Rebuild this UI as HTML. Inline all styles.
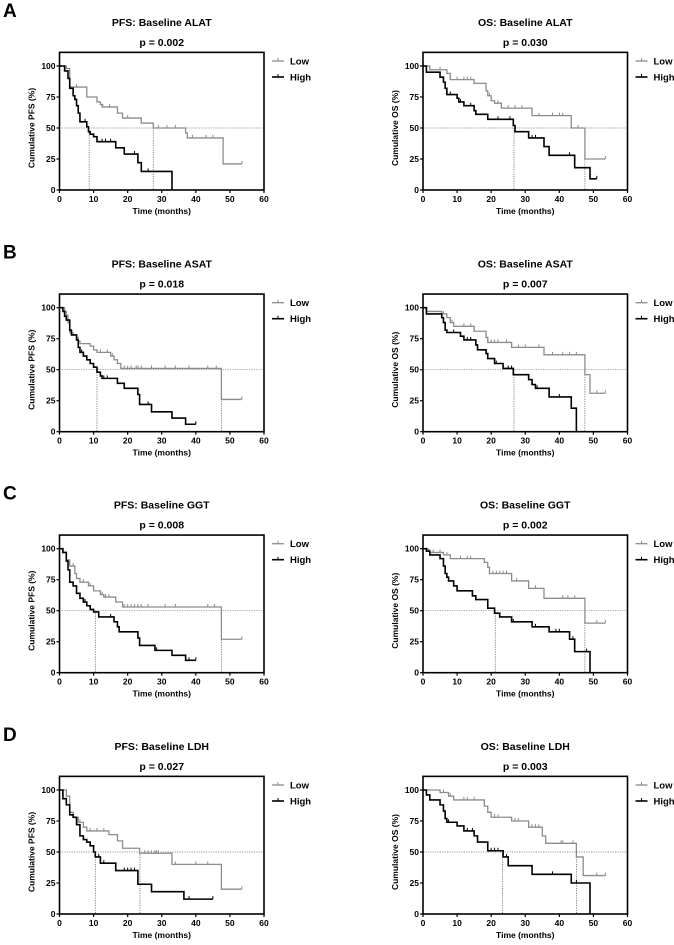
<!DOCTYPE html>
<html><head><meta charset="utf-8">
<style>
html,body{margin:0;padding:0;background:#fff;}
svg{display:block;font-family:"Liberation Sans",Arial,sans-serif;font-weight:bold;}
</style></head>
<body>
<svg id="fig" width="674" height="945" viewBox="0 0 674 945" xmlns="http://www.w3.org/2000/svg"></svg>
<script>
// ---- Data ----
const panelLetters = ["A","B","C","D"];
const titles = ["PFS: Baseline ALAT","OS: Baseline ALAT","PFS: Baseline ASAT","OS: Baseline ASAT",
"PFS: Baseline GGT","OS: Baseline GGT","PFS: Baseline LDH","OS: Baseline LDH"];
const pValues = ["p = 0.002","p = 0.030","p = 0.018","p = 0.007","p = 0.008","p = 0.002","p = 0.027","p = 0.003"];
const yTitles = ["Cumulative PFS (%)","Cumulative OS (%)","Cumulative PFS (%)","Cumulative OS (%)","Cumulative PFS (%)","Cumulative OS (%)","Cumulative PFS (%)","Cumulative OS (%)"];
const xTicks = [0,10,20,30,40,50,60];
const yTicks = [0,25,50,75,100];
const seriesNames = ["Low","High"];

// step curves: [time, survival] after each drop; last entry = end of follow-up
const lowSteps = [
 [[2,98],[3,83],[8,75],[11,71],[12,69],[12.5,67],[17,62],[18.5,58],[24,54],[27.5,50],[37,46],[37.5,42],[48,21],[53.5,21]],
 [[2,97],[7,94],[8,89],[15,86],[18.5,80],[19,76],[20,72],[21,70],[23,66],[32,60],[43.5,50],[47.5,25],[53.5,25]],
 [[1.5,97],[2,94],[2.5,88],[3,80],[4,78],[5,76],[5.5,73],[6,71],[9,69],[10,66],[11,64],[15,61],[16,58],[17,55],[18,51],[47.5,26],[53.5,26]],
 [[1,97],[5.5,95],[7,92],[8,88],[9,85],[15,81],[18.5,76],[19,72],[26,68],[35.5,62],[47.5,46],[49,31],[53.5,31]],
 [[1,97],[2,91],[3,86],[4.5,80],[5,76],[6,73],[8.5,70],[10,66],[12,63],[13,61],[16.5,57],[18.5,53],[47.5,27],[53.5,27]],
 [[1.5,99],[2,97],[6,95],[8,92],[18,89],[19,85],[19.5,80],[26,74],[31,68],[35.5,60],[47.5,40],[53.5,40]],
 [[2,95],[3,82],[4,78],[5.5,74],[7,70],[8,67],[14.5,64],[17,59],[18.5,53],[23.5,49],[33,40],[47.5,20],[53.5,20]],
 [[5,98],[7.5,95],[9,92],[18,87],[19,82],[20,78],[26,75],[31,70],[35,63],[36,57],[45,46],[47,31],[53.5,31]]
];
const lowCens = [
 [3,5,12.7,14.7,20,24,29,31.5,34,39,43,45,53.5],
 [5,8,10,12,13,14,19.5,22,25,27,29,34,38,40,41,45.5,53.5],
 [12,14,15.5,19,20,21,22.5,23,24,27,31,34,38,43.5,46,53.5],
 [6,8.5,12,14,15,20,21,22,24.5,28,30,34,38,41,43,45,51,53.5],
 [4,7,9,12.5,13.5,14.5,19,20,21,22,23,24,26,31,34,43.5,45.5,53.5],
 [3,5,7,11,13,14,20.5,21.5,22.5,23.5,24.5,27.5,33,41,42.5,44.5,51,53.5],
 [6,9,11,13,23.5,25,26,27,28,28.5,29,34,40,43.5,53.5],
 [6,8,12,13,15,21,22,27,28,32,33,34,40.5,41,44,51,53.5]
];
const highSteps = [
 [[1.5,96],[2.5,90],[3,82],[4,76],[4.5,73],[5,68],[5.5,62],[6,55],[8,51],[8.5,47],[9,45],[10,43],[11,39],[16.5,34],[19,29],[23,22],[24,15],[33,0],[33,0]],
 [[1,95],[5,91],[6,87],[6.5,82],[7,77],[10,74],[10.5,71],[12,68],[15,64],[15.5,61],[19,57],[26.5,52],[27,47],[31,42],[35.5,35],[37,28],[44.5,18],[49,9],[51,9]],
 [[1,97],[1.5,93],[2,90],[3,82],[3.5,78],[5,74],[5.5,68],[6,64],[7,61],[8,58],[9,55],[10,52],[11,48],[12,45],[12.5,43],[17,39],[19,35],[23,30],[23.5,22],[27,16],[33,11],[37,6],[40,6]],
 [[1,95],[5.5,92],[6,88],[6.5,82],[7,80],[11,77],[12,74],[15.5,70],[16,66],[18.5,63],[19,59],[21,55],[23.5,51],[26.5,46],[31,42],[32,38],[33,35],[37,28],[43.5,19],[45,0],[45,0]],
 [[1,97],[2,90],[2.5,83],[3,73],[4,70],[5,64],[6,60],[7,57],[8,54],[9,51],[10,49],[11.5,45],[16,41],[17,37],[17.5,33],[23,28],[23.5,22],[28,18],[33,14],[37,10],[40,10]],
 [[1,98],[2,95],[5,92],[6,86],[6.5,80],[7,77],[7.5,74],[9,70],[10,66],[14.5,62],[15.5,59],[19,52],[21,48],[22.5,45],[26,41],[32,37],[37,33],[43,27],[44.5,17],[49,0],[49,0]],
 [[1,93],[2,88],[3,80],[4,78],[5,72],[6,63],[7,60],[8,58],[9,55],[10,50],[10.5,46],[12,41],[16.5,35],[23,24],[27,18],[36.5,12],[45,12]],
 [[1,96],[2,92],[5,88],[6,83],[6.5,77],[7,74],[10,71],[12,67],[15,63],[16,58],[19,51],[23.5,46],[25,39],[32,32],[43.5,25],[49,0],[49,0]]
];
const highCens = [
 [7.5,12.5,13.5,15,22,26],
 [8,11,14,19,22,25.5,32,33,43,51],
 [6.5,13,14,26,40],
 [6,9,13,14,21.5,25,26,33.5,40],
 [7.5,15,28.5,38,40],
 [6.5,7.5,14.5,26.5,33,39,40,44,48],
 [5,11.5,13,19,20,21,22,38,45],
 [7.5,13,14.5,20,21,22,24.5,25,38,45]
];
const lowMedian = [27.5,47.5,47.5,47.5,47.5,47.5,23.6,45];
const highMedian = [8.7,26.7,11,26.7,10.5,21.2,10.5,23.3];

// ---- Drawing ----
const NS="http://www.w3.org/2000/svg";
const svg=document.getElementById('fig');
function mk(tag,attrs,parent){const e=document.createElementNS(NS,tag);for(const k in attrs)e.setAttribute(k,attrs[k]);(parent||svg).appendChild(e);return e;}
const rowOffsets=[0,241.7,482.7,724];
const colX0=[59.5,423];
const plotW=204.5;
const y0Base=190, pxPerPct=1.24;
const GRAY="#8c8c8c";

function survAt(steps,t){let s=100;for(const [tt,v] of steps){if(tt<=t)s=v;else break;}return s;}

for(let i=0;i<8;i++){
  const row=Math.floor(i/2), col=i%2;
  const off=rowOffsets[row];
  const X0=colX0[col];
  const Y0=y0Base+off;
  const xs=t=>X0+t/60*plotW;
  const ys=v=>Y0-v*pxPerPct;
  const g=mk('g',{});
  
  
  if(col===0){
    const L=mk('text',{x:3,y:off+17,'font-size':19,fill:'#000'},g);
    L.textContent=panelLetters[row];
    
    
  }
  const T=mk('text',{x:X0+plotW/2,y:off+26,'font-size':10.5,'text-anchor':'middle'},g);
  T.textContent=titles[i];
  
  
  const P=mk('text',{x:X0+plotW/2,y:off+46,'font-size':10.5,'text-anchor':'middle'},g);
  P.textContent=pValues[i];
  
  
  // dotted reference lines
  const h=mk('line',{x1:X0,x2:X0+plotW,y1:ys(50),y2:ys(50),stroke:'#777','stroke-width':0.7,'stroke-dasharray':'1.2,1.2'},g);
  
  
  [lowMedian[i],highMedian[i]].forEach(m=>{
    const v=mk('line',{x1:xs(m),x2:xs(m),y1:ys(50),y2:Y0,stroke:'#555','stroke-width':0.7,'stroke-dasharray':'1.2,1.2'},g);
    
    
  });
  // curves
  const curves=[[lowSteps[i],lowCens[i],GRAY,1.3,'low'],[highSteps[i],highCens[i],'#000',1.6,'high']];
  curves.forEach(([steps,cens,color,w,nm])=>{
    let d='M'+xs(0)+','+ys(100);let prev=100;
    steps.forEach(([t,v])=>{d+=' H'+xs(t)+' V'+ys(v);prev=v;});
    const p=mk('path',{d:d,fill:'none',stroke:color,'stroke-width':w},g);
    
    
    cens.forEach(t=>{
      const s=survAt(steps,t);
      const c=mk('line',{x1:xs(t),x2:xs(t),y1:ys(s),y2:ys(s)-3,stroke:color,'stroke-width':1},g);
      
      
    });
  });
  // frame
  const fr=mk('rect',{x:X0,y:Y0-111*pxPerPct,width:plotW,height:111*pxPerPct,fill:'none',stroke:'#000','stroke-width':1.6},g);
  
  
  // y ticks
  yTicks.forEach(v=>{
    const tk=mk('line',{x1:X0-3,x2:X0,y1:ys(v),y2:ys(v),stroke:'#000','stroke-width':1.2},g);
    
    
    const tl=mk('text',{x:X0-4,y:ys(v)+3,'font-size':8.5,'text-anchor':'end'},g);
    tl.textContent=v;
    
    
  });
  xTicks.forEach(v=>{
    const tk=mk('line',{x1:xs(v),x2:xs(v),y1:Y0,y2:Y0+3,stroke:'#000','stroke-width':1.2},g);
    
    
    const tl=mk('text',{x:xs(v),y:Y0+12,'font-size':8.5,'text-anchor':'middle'},g);
    tl.textContent=v;
    
    
  });
  const xt=mk('text',{x:X0+plotW/2,y:Y0+24,'font-size':8.5,'text-anchor':'middle'},g);
  xt.textContent='Time (months)';
  
  
  const yx=X0-25, yy=Y0-50*pxPerPct;
  const yt=mk('text',{x:yx,y:yy,'font-size':8.5,'text-anchor':'middle',transform:'rotate(-90 '+yx+' '+yy+')'},g);
  yt.textContent=yTitles[i];
  
  
  // legend
  seriesNames.forEach((nm,k)=>{
    const ly=ys(100)-5+k*16;
    const lx=X0+plotW+8;
    const ll=mk('line',{x1:lx,x2:lx+12,y1:ly,y2:ly,stroke:k?'#000':GRAY,'stroke-width':k?1.6:1.3},g);
    
    
    const lt=mk('line',{x1:lx+6,x2:lx+6,y1:ly,y2:ly-3,stroke:k?'#000':GRAY,'stroke-width':1},g);
    
    
    const tx=mk('text',{x:lx+18,y:ly+3.5,'font-size':9.5},g);
    tx.textContent=nm;
    
    
  });
}
</script>
</body></html>
